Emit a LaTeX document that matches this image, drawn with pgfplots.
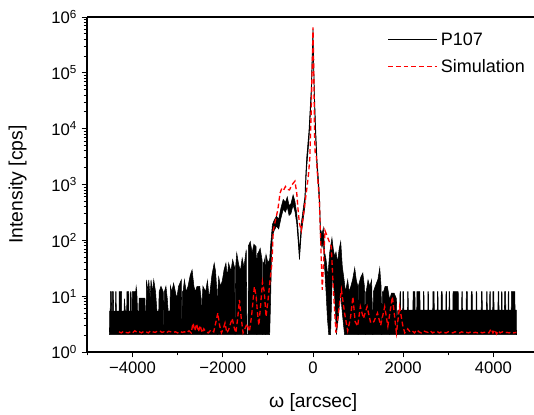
\documentclass[border=0pt]{standalone}
\usepackage{fontspec}
\setmainfont{Liberation Sans}
\usepackage{pgfplots}
\pgfplotsset{compat=1.18}
\begin{document}
\begin{tikzpicture}
\begin{axis}[
  scale only axis,
  width=335.25pt, height=251.25pt,
  xmin=-5010, xmax=4900,
  ymin=1, ymax=1e6, ymode=log,
  axis x line*=box, axis y line*=left,
  axis line style={-, line width=0.8pt},
  tick align=outside,
  xtick pos=left, ytick pos=left,
  xtick={-4000,-2000,0,2000,4000},
  xticklabels={−4000,−2000,0,2000,4000},
  minor xtick={-5000,-3000,-1000,1000,3000},
  ytick={1,10,100,1000,10000,100000,1000000},
  yticklabels={10\textsuperscript{0},10\textsuperscript{1},10\textsuperscript{2},10\textsuperscript{3},10\textsuperscript{4},10\textsuperscript{5},10\textsuperscript{6}},
  minor ytick={2,3,4,5,6,7,8,9,20,30,40,50,60,70,80,90,200,300,400,500,600,700,800,900,2e3,3e3,4e3,5e3,6e3,7e3,8e3,9e3,2e4,3e4,4e4,5e4,6e4,7e4,8e4,9e4,2e5,3e5,4e5,5e5,6e5,7e5,8e5,9e5},
  major tick length=4pt, minor tick length=2.5pt,
  every tick/.style={black, line width=0.6pt},
  tick label style={font=\fontsize{12.5}{15}\selectfont},
  xlabel={ω [arcsec]}, ylabel={Intensity [cps]},
  label style={font=\fontsize{14.5}{17}\selectfont},
  xlabel style={at={(axis description cs:0.506,-0.150)}, anchor=center},
  ylabel style={at={(axis description cs:-0.155,0.5)}, anchor=center},
  legend style={draw=none, fill=none, at={(0.995,0.97)}, anchor=north east,
    font=\fontsize{13.5}{16}\selectfont, row sep=5pt},
  legend cell align=left,
  legend image code/.code={\draw[#1] (0pt,0pt) -- (37pt,0pt);},
]
\addplot[draw=black, fill=black, line width=0.4pt, forget plot] coordinates {
(-4512,2.05)(-4508,5.4)
(-4495,5.4)(-4490,12)(-4470,12)(-4465,5.4)
(-4450,5.4)(-4445,12)(-4425,12)(-4420,5.4)
(-4380,5.4)(-4375,12)(-4365,12)(-4360,5.4)
(-4300,5.4)(-4295,12)(-4245,12)(-4240,5.4)
(-4190,5.4)(-4180,9)(-4160,5.4)
(-4130,5.4)(-4125,12)(-4085,12)(-4080,5.4)
(-4050,5.4)(-4045,12)(-4035,12)(-4030,5.4)
(-4010,5.4)(-4005,12)(-3930,12)(-3920,14.8)(-3905,12)(-3890,5.4)
(-3860,5.4)(-3855,9.2)(-3790,9.2)(-3785,2.05)(-3780,9.2)(-3730,9.2)(-3720,5.4)
(-3700,5.4)(-3690,19.5)(-3660,12)(-3640,19.5)(-3610,9)(-3590,19.5)(-3560,12)(-3530,19.5)(-3490,12)(-3460,5.4)
(-3420,5.4)(-3410,12)(-3370,15)(-3320,12)(-3305,2.05)(-3295,12)(-3260,15)(-3230,9)(-3210,5.4)
(-3170,5.4)(-3160,15)(-3130,12)(-3090,17)(-3050,12)(-3020,9)(-2980,15)(-2920,19.5)(-2905,2.05)(-2895,12)(-2880,12)(-2850,19.5)(-2810,12)(-2770,15)(-2720,24)(-2680,29.5)(-2640,15)(-2610,12)(-2570,15)(-2510,15)(-2480,9)(-2465,2.05)(-2455,9)(-2440,15)(-2380,12)(-2340,19)(-2300,9)(-2240,24)(-2190,39)(-2160,28)(-2130,12)(-2120,2.05)(-2110,12)(-2090,22)(-2050,15)(-2010,19)(-1970,30)(-1930,39)(-1900,22)(-1870,39)(-1820,28)(-1780,45)(-1740,33)(-1725,2.05)(-1715,33)(-1690,59)(-1650,38)(-1610,28)(-1570,48)(-1530,33)(-1480,68)(-1465,2.05)(-1440,2.05)(-1430,80)(-1390,95)(-1350,60)(-1310,85)(-1260,77)(-1245,2.05)(-1235,58)(-1220,58)(-1170,72)(-1130,45)(-1115,2.05)(-1105,40)(-1090,38)(-1060,50)(-1050,2.05)(-1040,55)(-1000,40)(-960,45)(-940,80)(-900,190)(-860,230)(-810,270)(-760,240)(-710,380)(-660,540)(-610,480)(-570,600)(-530,420)(-490,450)(-440,650)(-400,500)(-360,300)(-330,150)(-300,63)(-260,200)(-220,350)(-180,600)(-160,1500)(-140,3000)(-90,9000)(-40,50000)(0,600000)(30,50000)(60,10000)(90,2700)(130,1000)(150,500)(165,160)(200,130)(230,166)(260,60)(290,45)(330,22)(370,60)(420,110)(450,70)(480,51)(510,62)(545,40)(580,70)(615,95)(650,34)(690,19.5)(720,12)(770,19.5)(800,12)(840,15)(880,20)(925,32)(960,19.5)(995,15)(1000,2.05)(1005,15)(1060,22)(1105,26)(1140,15)(1160,2.05)(1170,12)(1180,12)(1220,19.5)(1260,15)(1300,19.5)(1325,2.05)(1340,12)(1380,15)(1440,20)(1480,32)(1510,15)(1525,2.05)(1540,12)(1560,11.7)(1600,15)(1650,15)(1695,9)(1700,2.05)(1705,9)(1740,11.3)(1800,11.3)(1850,9)(1865,2.05)(1880,5.6)
(1925,5.6)(1930,12)(1940,12)(1945,5.6)
(1990,5.6)(1995,12)(2010,12)(2015,5.6)
(2095,5.6)(2100,12)(2110,12)(2115,5.6)
(2215,5.6)(2220,12)(2260,12)(2265,5.6)
(2300,5.6)(2305,12)(2370,12)(2375,5.6)
(2445,5.6)(2450,12)(2460,12)(2465,5.6)
(2545,5.6)(2550,12)(2560,12)(2565,5.6)
(2655,5.6)(2660,12)(2685,12)(2690,5.6)
(2755,5.6)(2760,12)(2770,12)(2775,5.6)
(2840,5.6)(2845,12)(2865,12)(2870,5.6)
(2945,5.6)(2950,12)(2960,12)(2965,5.6)
(3015,5.6)(3020,12)(3030,12)(3035,5.6)
(3100,5.6)(3105,12)(3220,12)(3225,5.6)
(3295,5.6)(3300,12)(3310,12)(3315,5.6)
(3395,5.6)(3400,12)(3420,12)(3425,5.6)
(3505,5.6)(3510,12)(3530,12)(3535,5.6)
(3615,5.6)(3620,12)(3630,12)(3635,5.6)
(3730,5.6)(3735,12)(3750,12)(3755,5.6)
(3845,5.6)(3850,12)(3860,12)(3865,5.6)
(3915,5.6)(3920,12)(3930,12)(3935,5.6)
(3985,5.6)(3990,12)(4010,12)(4015,5.6)
(4100,5.6)(4105,12)(4120,12)(4125,5.6)
(4175,5.6)(4180,12)(4190,12)(4195,5.6)
(4245,5.6)(4250,12)(4270,12)(4275,5.6)
(4325,5.6)(4330,12)(4340,12)(4345,5.6)
(4395,5.6)(4400,12)(4475,12)(4480,5.6)
(4510,5.6)(4512,2.05)
(700,2.05)(650,5)(610,12)(560,4)(520,2.05)(480,10)(430,25)(390,2.05)(350,2.05)(320,4)(290,12)(260,30)(230,95)(200,75)(165,100)(150,320)(130,650)(90,1900)(60,6500)(30,33000)(0,420000)(-40,33000)(-90,6000)(-140,2000)(-160,1000)(-180,400)(-220,230)(-260,130)(-300,45)(-330,100)(-360,200)(-400,330)(-440,430)(-490,300)(-530,280)(-570,400)(-610,320)(-660,360)(-710,250)(-760,160)(-810,180)(-860,150)(-900,120)(-920,50)(-940,8)(-960,2.05)(-4512,2.05)
};
\addlegendimage{black, line width=0.8pt}
\addlegendentry{P107}
\addplot[red, line width=1pt, dash pattern=on 3.6pt off 2.2pt] coordinates {
(-4300,2.3)(-4250,2.2)(-4200,2.35)(-4150,2.25)(-4100,2.2)(-4050,2.3)(-4000,2.2)(-3950,2.4)(-3900,2.25)(-3850,2.3)(-3800,2.2)(-3750,2.35)(-3700,2.3)(-3650,2.2)(-3600,2.4)(-3550,2.3)(-3500,2.25)(-3450,2.35)(-3400,2.4)(-3350,2.25)(-3300,2.3)(-3250,2.2)(-3200,2.35)(-3150,2.3)(-3100,2.25)(-3050,2.3)(-3000,2.2)(-2950,2.35)(-2900,2.25)(-2850,2.3)(-2800,2.2)(-2750,2.4)(-2700,2.2)(-2660,3.3)(-2620,2.4)(-2580,3.2)(-2540,2.3)(-2500,3.0)(-2460,2.2)(-2420,2.6)(-2380,2.3)(-2320,2.2)(-2260,2.5)(-2200,2.3)(-2150,3.5)(-2110,5.0)(-2070,3.0)(-2030,2.2)(-1990,2.6)(-1950,3.3)(-1910,2.2)(-1870,2.5)(-1830,3.2)(-1790,4.0)(-1750,2.8)(-1710,2.2)(-1670,4.0)(-1630,8.6)(-1590,4.0)(-1550,2.2)(-1510,2.6)(-1460,3.2)(-1410,2.3)(-1360,4.5)(-1300,14.8)(-1260,10)(-1230,5.0)(-1200,3.0)(-1160,7)(-1120,18)(-1080,12)(-1040,4.3)(-1000,8)(-950,20)(-910,39)(-880,150)(-830,233)(-780,350)(-730,700)(-690,860)(-650,800)(-610,920)(-570,820)(-520,800)(-480,950)(-440,1050)(-400,1150)(-360,700)(-330,350)(-300,200)(-260,150)(-220,250)(-180,450)(-140,800)(-100,1500)(-70,3000)(-40,20000)(-15,150000)(0,650000)(15,150000)(35,8000)(50,3500)(75,3200)(100,1500)(140,550)(170,100)(205,13)(235,40)(265,150)(330,110)(405,77)(460,10)(510,2.2)(575,6)(630,13)(700,5)(770,2.4)(830,4)(885,9.8)(935,3.5)(990,2.9)(1050,6.5)(1120,4.0)(1200,6.5)(1280,3.3)(1350,3.5)(1430,5)(1500,3.0)(1590,6.5)(1660,2.9)(1760,9.8)(1850,2.2)(1920,6.5)(1990,3.0)(2035,2.2)(2100,2.6)(2150,2.3)(2200,2.4)(2250,2.2)(2300,2.5)(2350,2.3)(2400,2.2)(2450,2.4)(2500,2.3)(2550,2.25)(2600,2.4)(2650,2.2)(2700,2.3)(2750,2.35)(2800,2.2)(2850,2.3)(2900,2.25)(2950,2.2)(3000,2.3)(3050,2.25)(3100,2.2)(3150,2.3)(3200,2.25)(3250,2.2)(3300,2.3)(3350,2.2)(3400,2.25)(3450,2.2)(3500,2.3)(3550,2.2)(3600,2.25)(3650,2.2)(3700,2.3)(3750,2.2)(3800,2.25)(3850,2.3)(3900,2.2)(3950,2.6)(3990,2.2)(4030,2.5)(4070,2.1)(4110,2.4)(4150,2.2)(4200,2.3)(4250,2.2)(4300,2.25)(4350,2.2)(4400,2.3)(4450,2.2)(4510,2.25)
};
\addlegendentry{Simulation}
\end{axis}
\pgfresetboundingbox
\path[use as bounding box] ([xshift=-65.25pt,yshift=-46.5pt]current axis.south west) rectangle ([yshift=12.75pt]current axis.north east);
\end{tikzpicture}
\end{document}
